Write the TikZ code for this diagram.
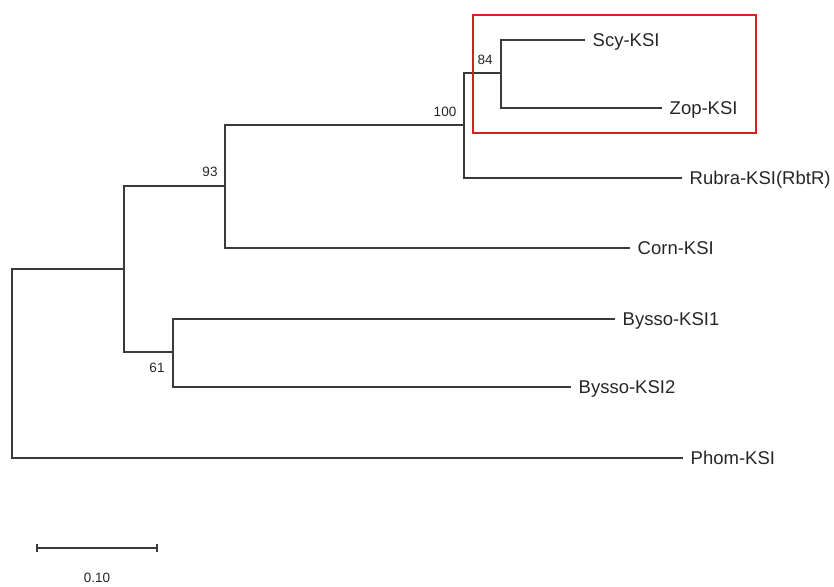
\documentclass[tikz,border=0pt]{standalone}
\usepackage{fontspec}
\setmainfont{Liberation Sans}
\usetikzlibrary{calc}
\definecolor{treeline}{HTML}{3A3A3A}
\definecolor{boxred}{HTML}{D42020}

\begin{document}
\begin{tikzpicture}[x=1pt, y=-1pt,
    branch/.style={treeline, line width=1.3pt},
    leaf/.style={anchor=west, inner xsep=7.5pt, inner ysep=0pt, text depth=0pt, font=\fontsize{18.5}{21}\selectfont, text=black!85},
    boot/.style={inner sep=0pt, font=\fontsize{13.5}{15}\selectfont, text=black!85}]

    \useasboundingbox (0,0) rectangle (834,586);

    % 1. Internal nodes of the tree
    \coordinate (root)  at (12, 269);
    \coordinate (ncore) at (124, 269);
    \coordinate (n93)   at (225, 186);
    \coordinate (n100)  at (464, 125);
    \coordinate (n84)   at (501, 73);
    \coordinate (n61)   at (173, 352);

    % 2. Leaves, placed where their branch ends
    \node[leaf] (scy)    at (585, 40)  {Scy-KSI};
    \node[leaf] (zop)    at (662, 108) {Zop-KSI};
    \node[leaf] (rubra)  at (682, 178) {Rubra-KSI(RbtR)};
    \node[leaf] (corn)   at (630, 248) {Corn-KSI};
    \node[leaf] (byssoA) at (615, 319) {Bysso-KSI1};
    \node[leaf] (byssoB) at (571, 387) {Bysso-KSI2};
    \node[leaf] (phom)   at (683, 458) {Phom-KSI};

    % 3. Branches
    \draw[branch] (scy.west) -| (n84) |- (zop.west);
    \draw[branch] (n84) -| (n100) |- (rubra.west);
    \draw[branch] (n100) -| (n93) |- (corn.west);
    \draw[branch] (n93) -| (ncore) |- (n61);
    \draw[branch] (byssoA.west) -| (n61) |- (byssoB.west);
    \draw[branch] (ncore) -- (root) |- (phom.west);

    % 4. Bootstrap values
    \node[boot] at ($(n84) + (-16,-13)$) {84};
    \node[boot] at ($(n100) + (-19,-13)$) {100};
    \node[boot] at ($(n93) + (-15,-14)$) {93};
    \node[boot] at ($(n61) + (-16,16)$) {61};

    % 5. Highlight box round Scy/Zop
    \draw[boxred, line width=2pt] (473,15) rectangle (756,133);

    % 6. Scale bar
    \coordinate (barL) at (37, 548);
    \coordinate (barR) at (157, 548);
    \draw[branch] (barL) -- (barR);
    \draw[branch] ($(barL) + (0,-4)$) -- ($(barL) + (0,4)$);
    \draw[branch] ($(barR) + (0,-4)$) -- ($(barR) + (0,4)$);
    \node[boot] (barlabel) at ($(barL)!0.5!(barR) + (0,30)$) {0.10};

\end{tikzpicture}
\end{document}
